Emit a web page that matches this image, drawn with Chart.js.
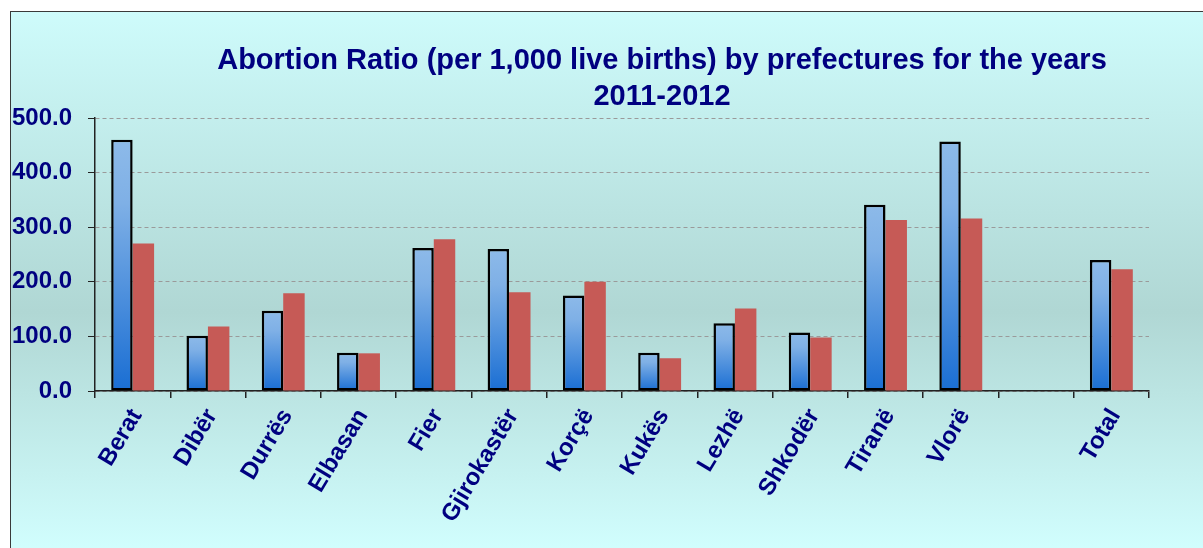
<!DOCTYPE html>
<html>
<head>
<meta charset="utf-8">
<title>Abortion Ratio by prefectures</title>
<script src="https://cdn.jsdelivr.net/npm/chart.js@4.4.0/dist/chart.umd.min.js"></script>
<style>
  html, body { margin: 0; padding: 0; background: #fff; overflow: hidden; }
  .frame {
    position: absolute; left: 10px; top: 11px; width: 1200px; height: 545px;
    border-left: 1.5px solid #3a3a3a; border-top: 1.5px solid #3a3a3a;
    background: linear-gradient(to bottom, #cefbfb 0%, #b0d7d4 55%, #d2ffff 100%);
  }
  .wrap { position: absolute; left: 0; top: 0; width: 1203px; height: 548px; }
</style>
</head>
<body>
<div class="frame"></div>
<div class="wrap"><canvas id="chart" width="1203" height="548"></canvas></div>
<script>
// values
const prefectures = ["Berat", "Dibër", "Durrës", "Elbasan", "Fier", "Gjirokastër", "Korçë",
  "Kukës", "Lezhë", "Shkodër", "Tiranë", "Vlorë", "", "Total"];
const ratio2011 = [460, 101, 147, 70, 262, 260, 175, 70, 124, 107, 341, 457, null, 240];
const ratio2012 = [270, 118, 179, 69, 278, 181, 200, 60, 151, 98, 313, 316, null, 223];
const titleLines = ["Abortion Ratio (per 1,000 live births) by prefectures for the years", "2011-2012"];

const navy = "#000080";
const fontFamily = '"Liberation Sans", Arial, sans-serif';

function blueGradient(ctx) {
  if (ctx.type !== "data" || ctx.raw == null) return "#4a8ddc";
  const y = ctx.chart.scales.y;
  if (!y) return "#4a8ddc";
  const bottom = y.getPixelForValue(0);
  const top = y.getPixelForValue(ctx.raw);
  if (!isFinite(bottom) || !isFinite(top) || bottom === top) return "#4a8ddc";
  const g = ctx.chart.ctx.createLinearGradient(0, bottom, 0, top);
  g.addColorStop(0, "#1a6ed3");
  g.addColorStop(0.75, "#7fb0e6");
  g.addColorStop(1, "#8dbae9");
  return g;
}

// title is placed over the plot like in the original, so draw it by hand
const titleText = {
  id: "titleText",
  afterDraw(chart) {
    const c = chart.ctx;
    c.save();
    c.font = "bold 29px " + fontFamily;
    c.fillStyle = navy;
    c.textAlign = "center";
    c.textBaseline = "middle";
    titleLines.forEach((t, i) => c.fillText(t, 662, 61 + i * 36));
    c.restore();
  }
};

new Chart(document.getElementById("chart"), {
  type: "bar",
  data: {
    labels: prefectures,
    datasets: [
      {
        label: "2011",
        data: ratio2011,
        backgroundColor: blueGradient,
        borderColor: "#000",
        borderWidth: 2.5,
        borderSkipped: false
      },
      {
        label: "2012",
        data: ratio2012,
        backgroundColor: "#c65a56",
        borderWidth: 0
      }
    ]
  },
  options: {
    responsive: false,
    animation: false,
    devicePixelRatio: 1,
    categoryPercentage: 0.57,
    barPercentage: 1.0,
    layout: { padding: { top: 118, left: 10, right: 54, bottom: 0 } },
    plugins: {
      legend: { display: false },
      title: { display: false },
      tooltip: { enabled: false }
    },
    scales: {
      x: {
        grid: {
          offset: true,
          drawOnChartArea: false,
          drawTicks: true,
          tickLength: 7,
          tickColor: "#222",
          lineWidth: 1.5
        },
        border: { color: "#222", width: 1.5 },
        ticks: {
          color: navy,
          font: { family: fontFamily, size: 24, weight: "bold" },
          minRotation: 59,
          maxRotation: 59,
          autoSkip: false,
          padding: 6,
          labelOffset: 4
        },
        afterFit(s) { s.height = 157; }
      },
      y: {
        min: 0,
        max: 500,
        ticks: {
          stepSize: 100,
          color: navy,
          font: { family: fontFamily, size: 24, weight: "bold" },
          padding: 16,
          callback: v => Number(v).toFixed(1)
        },
        grid: {
          color: "#9a9a9a",
          lineWidth: 1,
          tickColor: "#222",
          tickLength: 7
        },
        border: { color: "#222", width: 1.5, dash: [4, 3] },
        afterFit(s) { s.width = 85; }
      }
    }
  },
  plugins: [titleText]
});
</script>
</body>
</html>
